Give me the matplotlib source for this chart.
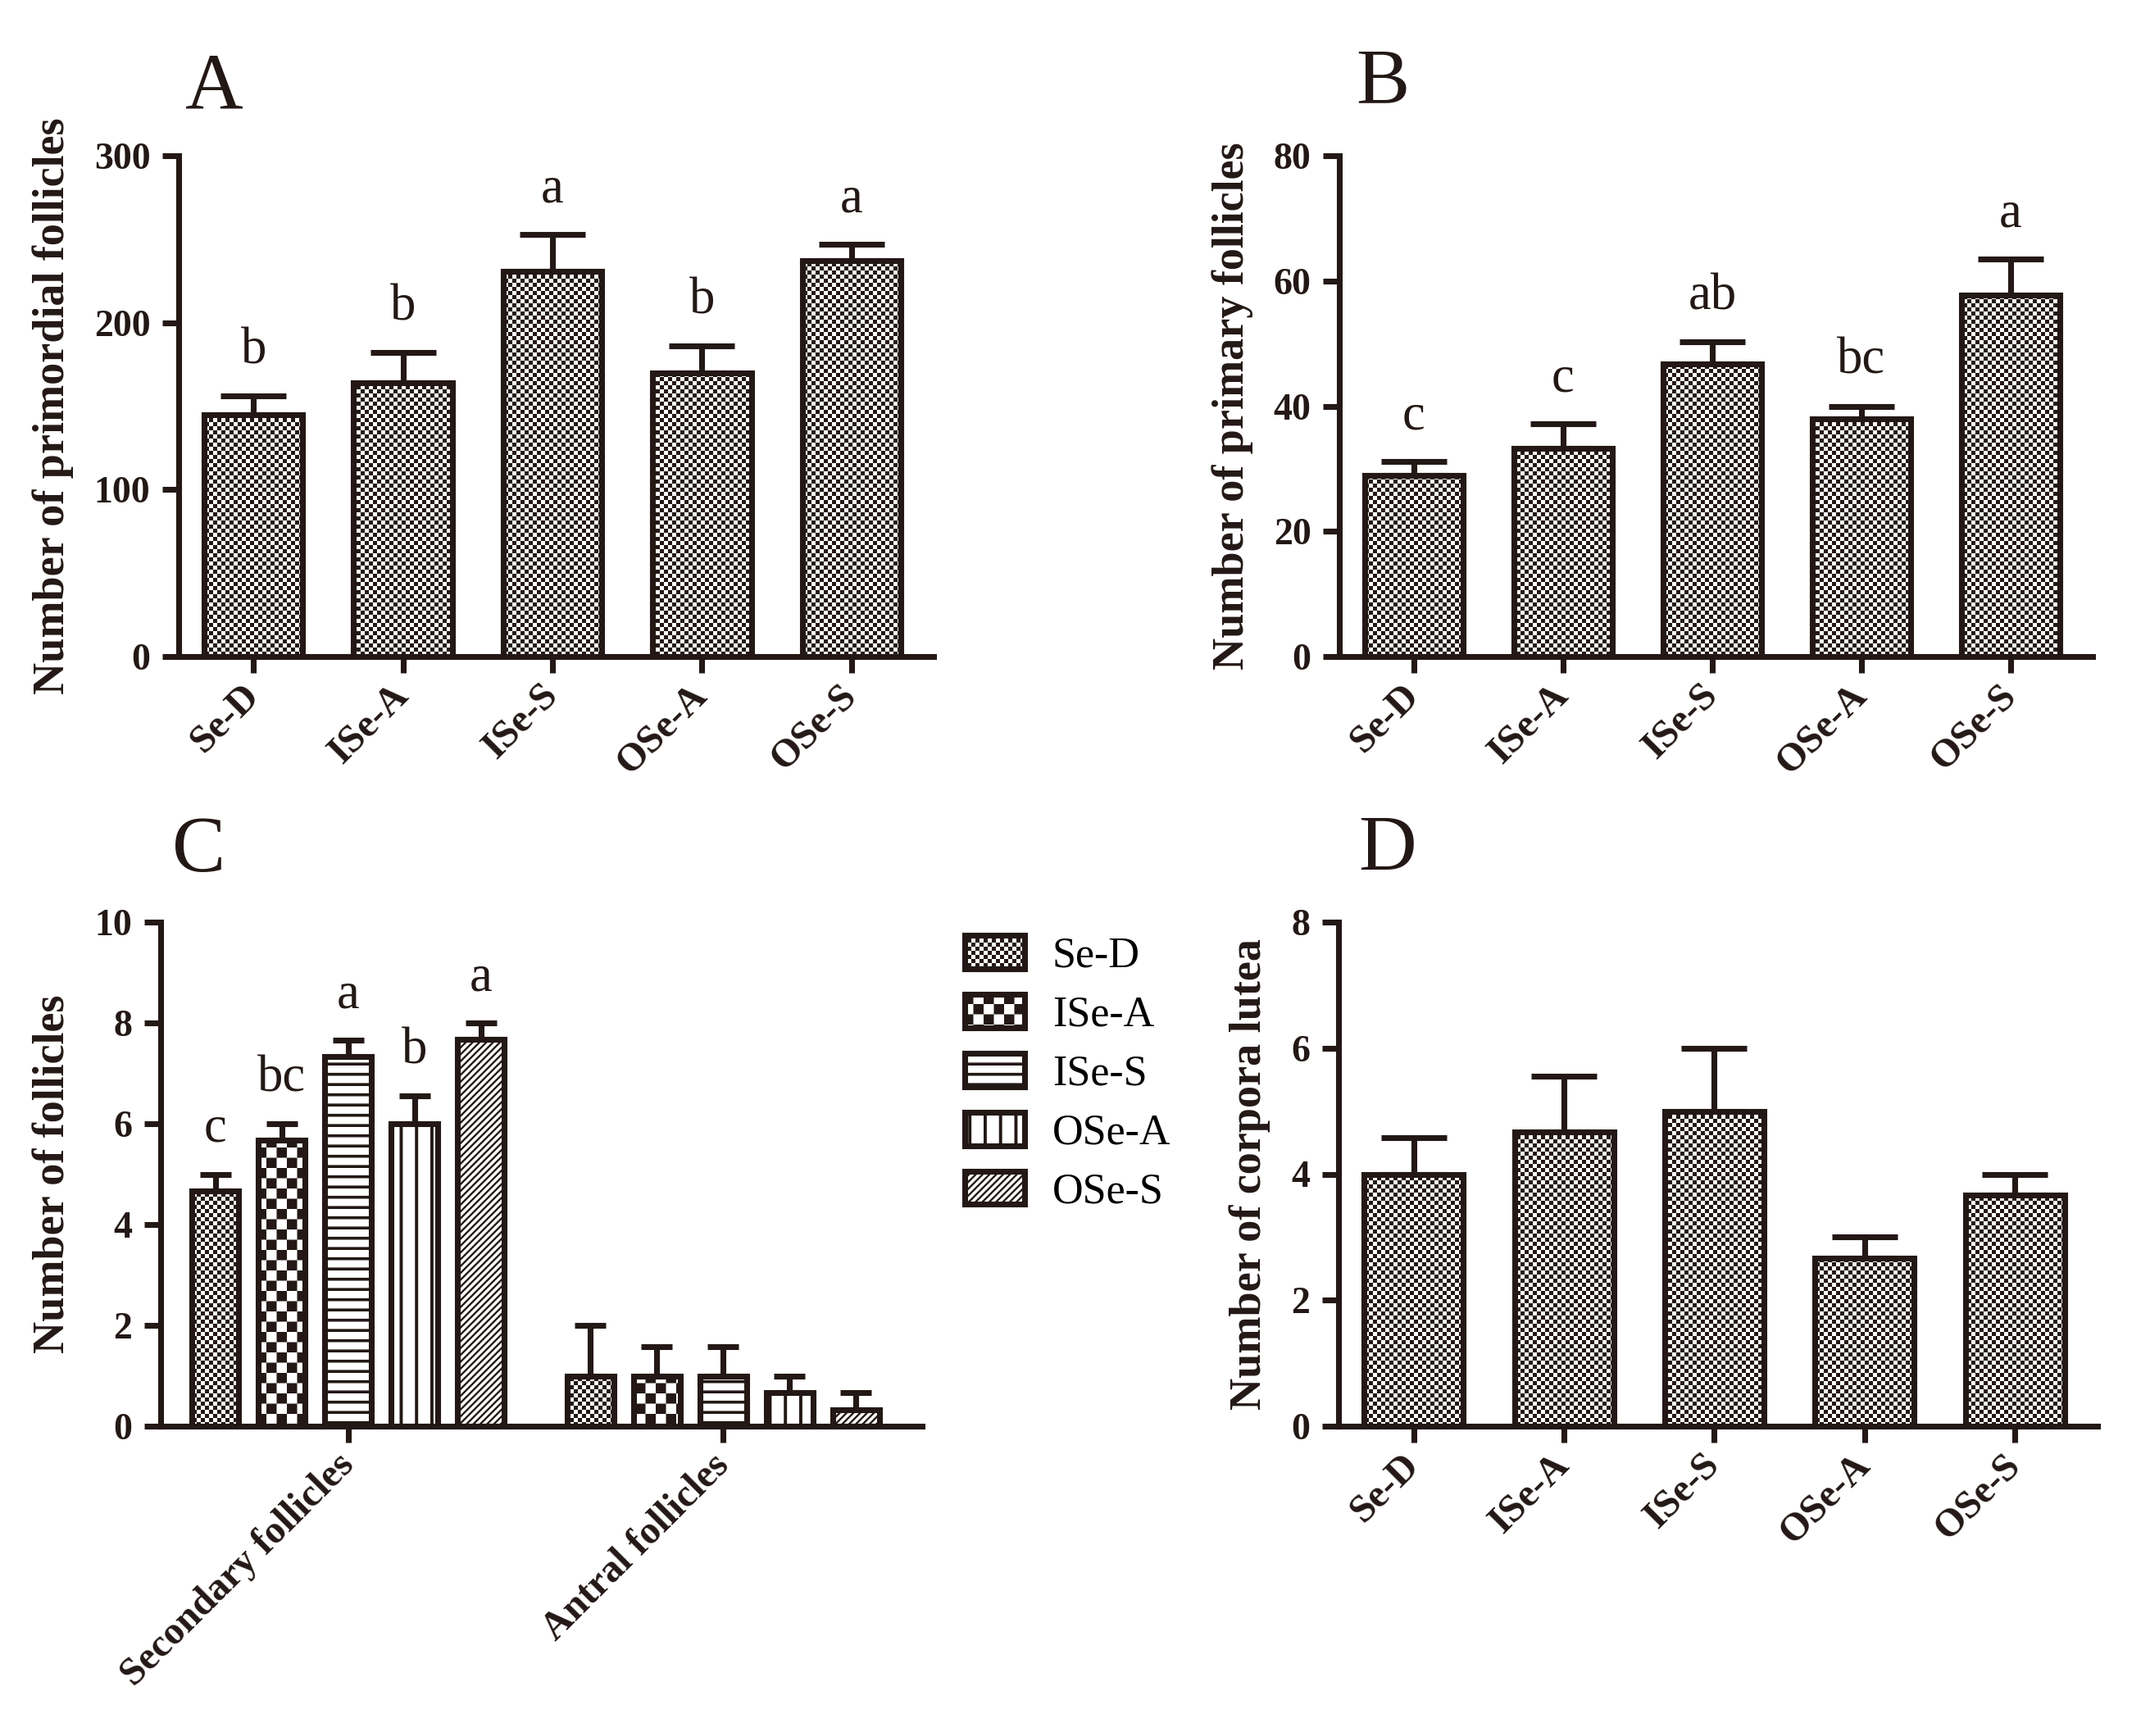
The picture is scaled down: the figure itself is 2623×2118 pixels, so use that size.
import numpy as np
import matplotlib
matplotlib.use('Agg')
import matplotlib.pyplot as plt
from matplotlib import hatch as mhatch
from matplotlib.path import Path

# ---- data ----
groups = ['Se-D', 'ISe-A', 'ISe-S', 'OSe-A', 'OSe-S']

primordial_mean = [145, 164, 231, 170, 237]
primordial_sem = [11, 18, 22, 16, 10]
primordial_sig = ['b', 'b', 'a', 'b', 'a']

primary_mean = [29.0, 33.3, 46.7, 38.0, 57.7]
primary_sem = [2.2, 3.9, 3.6, 2.0, 5.8]
primary_sig = ['c', 'c', 'ab', 'bc', 'a']

follicle_types = ['Secondary follicles', 'Antral follicles']
secondary_mean = [4.67, 5.67, 7.33, 6.00, 7.67]
secondary_sem = [0.33, 0.33, 0.33, 0.55, 0.33]
secondary_sig = ['c', 'bc', 'a', 'b', 'a']
antral_mean = [1.00, 1.00, 1.00, 0.67, 0.33]
antral_sem = [1.00, 0.58, 0.58, 0.33, 0.33]

lutea_mean = [4.00, 4.67, 5.00, 2.67, 3.67]
lutea_sem = [0.58, 0.88, 1.00, 0.33, 0.33]

INK = '#231815'
LW = 1.7
SERIF = 'Liberation Serif'


# ---- filled hatch tiles (checkers and solid stripes like GraphPad) ----
class TileHatch(mhatch.HatchPatternBase):
    key = None

    def __init__(self, hatch, density):
        self.polys = self.polygons() if (hatch and self.key in hatch) else []
        self.num_vertices = 5 * len(self.polys)

    def polygons(self):
        return []

    def set_vertices_and_codes(self, vertices, codes):
        vertices[:] = np.concatenate([np.vstack([p, p[:1]]) for p in self.polys])
        codes[:] = np.tile([Path.MOVETO, Path.LINETO, Path.LINETO,
                            Path.LINETO, Path.CLOSEPOLY], len(self.polys))


def checker(n):
    s = 1.0 / n
    out = []
    for i in range(n):
        for j in range(n):
            if (i + j) % 2 == 0:
                x, y = i * s, j * s
                out.append(np.array([[x, y], [x + s, y], [x + s, y + s], [x, y + s]]))
    return out


class FineChecker(TileHatch):
    key = 'o'

    def polygons(self):
        return checker(60)


class CoarseChecker(TileHatch):
    key = 'O'

    def polygons(self):
        return checker(24)


class HStripes(TileHatch):
    key = '-'

    def polygons(self):
        n, t = 24, 0.012
        return [np.array([[-0.01, k / n], [1.01, k / n], [1.01, k / n + t], [-0.01, k / n + t]])
                for k in range(n)]


class VStripes(TileHatch):
    key = '|'

    def polygons(self):
        n, t = 16, 0.013
        return [np.array([[k / n, -0.01], [k / n + t, -0.01], [k / n + t, 1.01], [k / n, 1.01]])
                for k in range(n)]


class DStripes(TileHatch):
    key = '/'

    def polygons(self):
        n = 36
        t = 0.4 / n
        out = []
        for k in range(-n - 2, n + 2):
            c = k / n
            out.append(np.array([[-0.1, -0.1 + c], [1.1, 1.1 + c],
                                 [1.1, 1.1 + c + t], [-0.1, -0.1 + c + t]]))
        return out


mhatch._hatch_types[:] = [FineChecker, CoarseChecker, HStripes, VStripes, DStripes]

plt.rcParams['font.family'] = [SERIF, 'DejaVu Serif']
plt.rcParams['hatch.linewidth'] = 0.0
plt.rcParams['hatch.color'] = INK
plt.rcParams['axes.linewidth'] = LW

hatches = ['o', 'O', '-', '|', '/']

fig = plt.figure(figsize=(2623 / 300, 2118 / 300), dpi=300)
W, H = 2623.0, 2118.0


def add_axes(l, r, t, b):
    return fig.add_axes([l / W, 1 - b / H, (r - l) / W, (b - t) / H])


def style(ax, ylim, yticks, ylabel):
    for s in ['top', 'right']:
        ax.spines[s].set_visible(False)
    for s in ['left', 'bottom']:
        ax.spines[s].set_color(INK)
        ax.spines[s].set_linewidth(LW)
    ax.set_ylim(*ylim)
    ax.set_yticks(yticks)
    ax.tick_params(axis='both', direction='out', length=4.8, width=LW, color=INK,
                   labelsize=11, labelcolor=INK)
    ax.tick_params(axis='x', pad=5)
    for lab in ax.get_yticklabels():
        lab.set_fontweight('bold')
    ax.set_ylabel(ylabel, fontsize=13, fontweight='bold', color=INK, labelpad=6)


def label_ticks(ax, labels):
    ax.set_xticklabels(labels, rotation=45, ha='right', va='center',
                       rotation_mode='anchor', fontsize=11.5, fontweight='bold', color=INK)


def sig_letters(ax, xs, tops, letters):
    for x, y, s in zip(xs, tops, letters):
        ax.annotate(s, (x, y), xytext=(0, 9.5), textcoords='offset points',
                    ha='center', va='baseline', fontsize=15, color=INK)


def simple_panel(ax, means, sems, letters, ylim, yticks, ylabel):
    x = np.arange(len(groups))
    ax.errorbar(x, means, yerr=[np.zeros(len(x)), sems], fmt='none', ecolor=INK,
                elinewidth=LW, capsize=9.5, capthick=LW, zorder=1)
    ax.bar(x, means, width=0.66, color='white', edgecolor=INK, linewidth=LW,
           hatch='o', zorder=2)
    ax.set_xlim(-0.5, 4.55)
    ax.set_xticks(x)
    style(ax, ylim, yticks, ylabel)
    label_ticks(ax, groups)
    if letters:
        sig_letters(ax, x, np.array(means) + np.array(sems), letters)


# A
axA = add_axes(218, 1139, 190, 801)
simple_panel(axA, primordial_mean, primordial_sem, primordial_sig,
             (0, 300), [0, 100, 200, 300], 'Number of primordial follicles')

# B
axB = add_axes(1634, 2553, 190, 801)
simple_panel(axB, primary_mean, primary_sem, primary_sig,
             (0, 80), [0, 20, 40, 60, 80], 'Number of primary follicles')

# D
axD = add_axes(1633, 2559, 1125, 1740)
simple_panel(axD, lutea_mean, lutea_sem, None,
             (0, 8), [0, 2, 4, 6, 8], 'Number of corpora lutea')

# C (grouped)
axC = add_axes(196, 1125, 1125, 1740)
pos = np.arange(len(follicle_types))
pitch = 0.177
handles = []
for i, name in enumerate(groups):
    xs = pos + (i - 2) * pitch
    m = [secondary_mean[i], antral_mean[i]]
    e = [secondary_sem[i], antral_sem[i]]
    axC.errorbar(xs, m, yerr=[np.zeros(2), e], fmt='none', ecolor=INK,
                 elinewidth=LW, capsize=4.5, capthick=LW, zorder=1)
    bc = axC.bar(xs, m, width=0.125, color='white', edgecolor=INK, linewidth=LW,
                 hatch=hatches[i], zorder=2, label=name)
    handles.append(bc)
axC.set_xlim(-0.5, 1.53)
axC.set_xticks(pos)
style(axC, (0, 10), [0, 2, 4, 6, 8, 10], 'Number of follicles')
label_ticks(axC, follicle_types)
sec_x = pos[0] + (np.arange(len(groups)) - 2) * pitch
sig_letters(axC, sec_x, np.array(secondary_mean) + np.array(secondary_sem), secondary_sig)

axC.legend(handles, groups, loc='upper left', bbox_to_anchor=(1177 / W, 1 - 1141 / H),
           bbox_transform=fig.transFigure, frameon=False, borderpad=0, borderaxespad=0,
           handlelength=1.4, handleheight=0.83, handletextpad=0.65, labelspacing=0.43,
           prop={'family': SERIF, 'size': 12.5})

# panel letters
for s, (px, py) in zip('ABCD', [(226, 131), (1654, 126), (210, 1063), (1657, 1062)]):
    fig.text(px / W, 1 - py / H, s, fontsize=23.5, color=INK, va='baseline', ha='left')

fig.savefig('out.png', dpi=300)
